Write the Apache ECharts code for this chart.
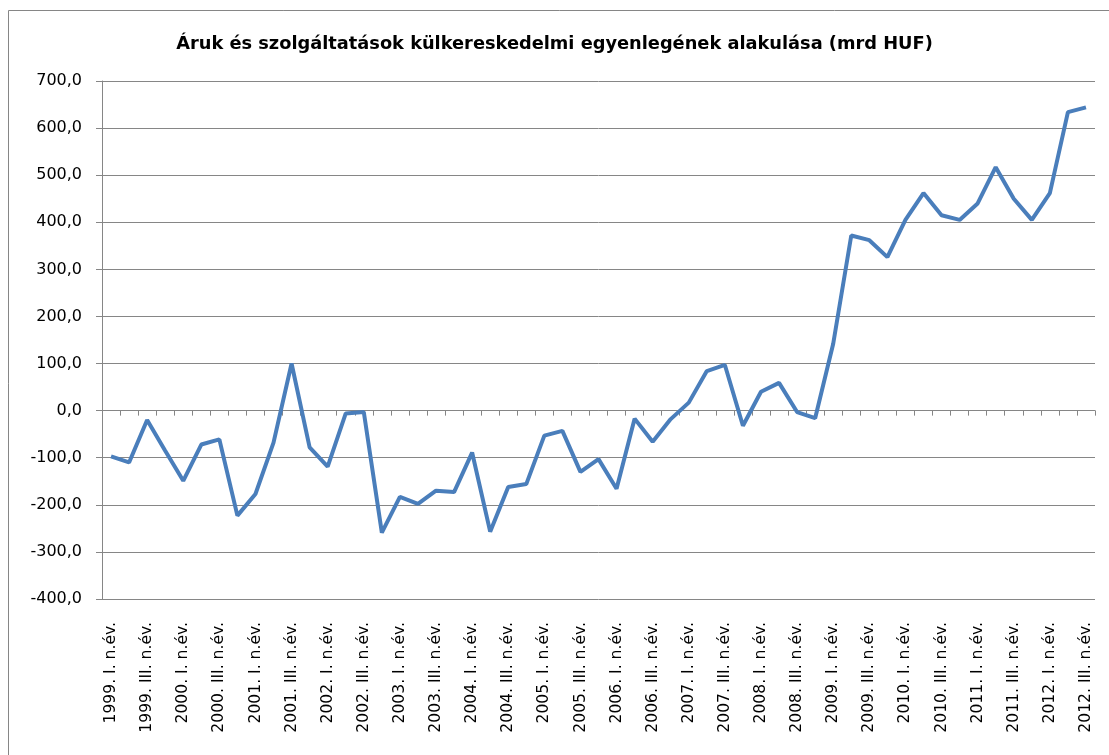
<!DOCTYPE html>
<html>
<head>
<meta charset="utf-8">
<script src="https://cdn.jsdelivr.net/npm/echarts@6/dist/echarts.min.js"></script>
<style>
html,body{margin:0;padding:0;background:#fff;}
#chart{width:1109px;height:755px;}
</style>
</head>
<body>
<div id="chart"></div>
<script>
const titleText = 'Áruk és szolgáltatások külkereskedelmi egyenlegének alakulása (mrd HUF)';
const years = [1999,2000,2001,2002,2003,2004,2005,2006,2007,2008,2009,2010,2011,2012];
const quarters = ['I','II','III','IV'];
const categories = [];
years.forEach(y => quarters.forEach(q => { if (!(y === 2012 && q === 'IV')) categories.push(y + '. ' + q + '. n.év.'); }));
const balance = [
  -97, -110, -20, -85,
  -149, -72, -61, -223,
  -177, -68, 100, -78,
  -119, -6, -3, -259,
  -183, -198, -170, -173,
  -89, -257, -162, -156,
  -53, -43, -130, -103,
  -166, -17, -66, -18,
  17, 84, 97, -32,
  40, 59, -3, -16,
  142, 372, 362, 326,
  405, 462, 415, 405,
  440, 517, 450, 405,
  462, 634, 644
];
const yMin = -400, yMax = 700, yStep = 100;

const chart = echarts.init(document.getElementById('chart'));
const gray = '#868686';
chart.setOption({
  animation: false,
  backgroundColor: '#fff',
  title: {
    text: titleText,
    left: 'center',
    top: 35,
    padding: [0, 0, 0, 12],
    textStyle: {fontFamily: 'DejaVu Sans', fontWeight: 'bold', fontSize: 17.8, color: '#000'}
  },
  graphic: [{
    type: 'rect', silent: true,
    shape: {x: 8.5, y: 10.5, width: 1120, height: 760},
    style: {fill: 'none', stroke: gray, lineWidth: 1}
  }],
  grid: {left: 102, right: 14, top: 81, bottom: 156, containLabel: false},
  xAxis: [{
    type: 'category',
    data: categories,
    boundaryGap: true,
    axisLine: {onZero: true, lineStyle: {color: gray, width: 1}},
    axisTick: {show: true, length: 5, interval: 0, lineStyle: {color: gray}},
    axisLabel: {show: false},
    splitLine: {show: false}
  }, {
    type: 'category',
    data: categories,
    position: 'bottom',
    boundaryGap: true,
    axisLine: {show: false, onZero: false},
    axisTick: {show: false},
    axisLabel: {
      show: true, interval: 1, rotate: 90, margin: 23,
      fontFamily: 'DejaVu Sans', fontSize: 15.6, color: '#000'
    },
    splitLine: {show: false}
  }],
  yAxis: {
    type: 'value',
    min: yMin, max: yMax, interval: yStep,
    axisLine: {show: true, lineStyle: {color: gray, width: 1}},
    axisTick: {show: true, length: 6, lineStyle: {color: gray}},
    axisLabel: {
      margin: 20,
      fontFamily: 'DejaVu Sans', fontSize: 16, color: '#000',
      formatter: v => v.toFixed(1).replace('.', ',')
    },
    splitLine: {show: true, lineStyle: {color: gray, width: 1}}
  },
  series: [{
    type: 'line',
    xAxisIndex: 0,
    data: balance,
    showSymbol: false,
    symbol: 'none',
    lineStyle: {color: '#4A7EBB', width: 4},
    z: 5
  }]
});
</script>
</body>
</html>
